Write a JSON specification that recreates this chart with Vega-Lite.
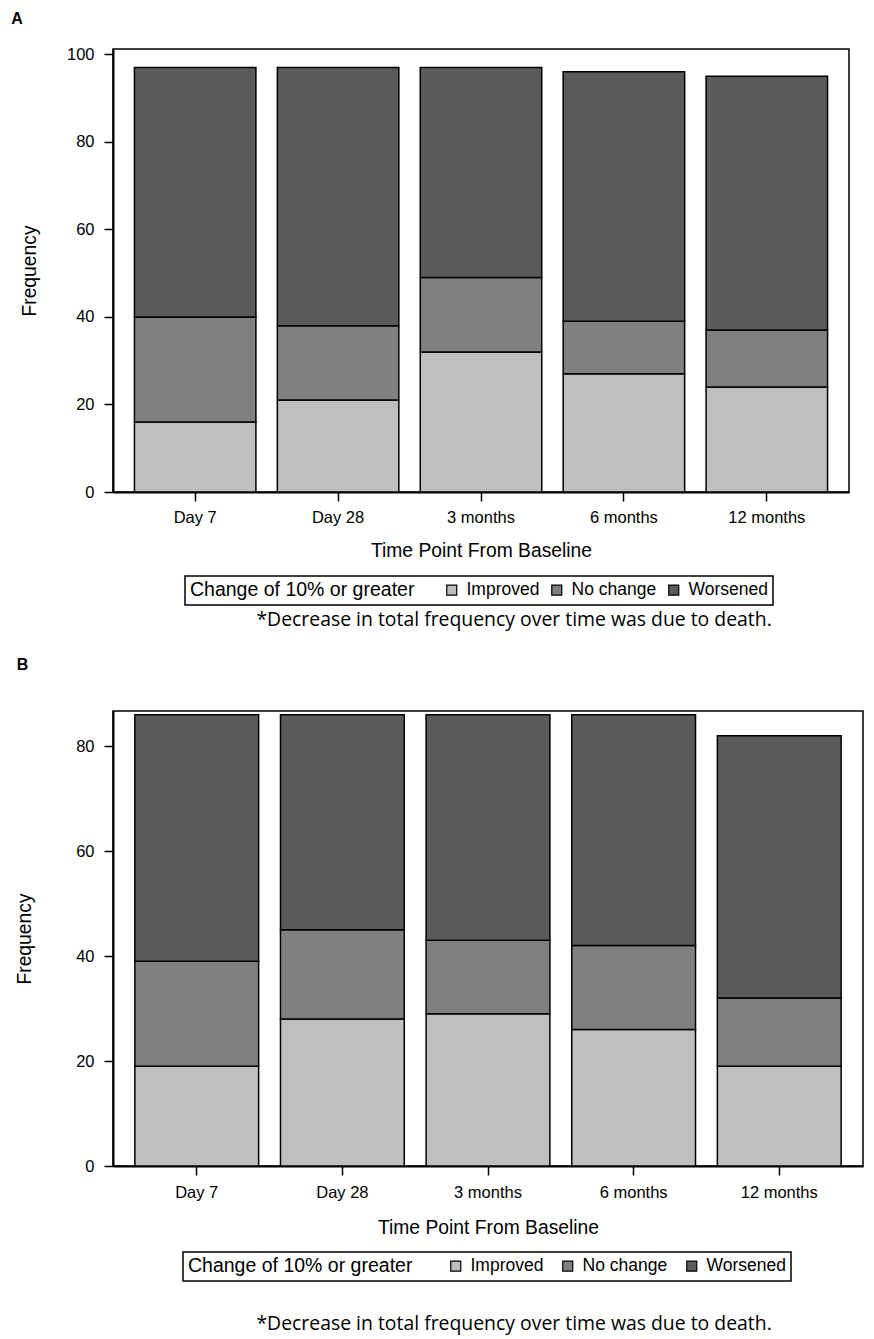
{
  "$schema": "https://vega.github.io/schema/vega-lite/v6.json",
  "background": "white",
  "padding": {"left": 10, "top": 10, "right": 4, "bottom": 4},
  "config": {
    "font": "Liberation Sans",
    "view": {"stroke": "black", "strokeWidth": 1.5},
    "axis": {
      "grid": false,
      "domainColor": "black",
      "domainWidth": 2,
      "tickColor": "black",
      "tickWidth": 1.5,
      "tickSize": 9,
      "labelColor": "black",
      "labelFont": "Liberation Sans",
      "labelFontSize": 16.5,
      "titleColor": "black",
      "titleFont": "Liberation Sans",
      "titleFontSize": 19.3,
      "titleFontWeight": "normal"
    },
    "legend": {
      "direction": "horizontal",
      "titleOrient": "left",
      "titleLimit": 400,
      "labelLimit": 200,
      "titleFont": "Liberation Sans",
      "titleFontSize": 19.5,
      "titleFontWeight": "normal",
      "titleColor": "black",
      "labelFont": "Liberation Sans",
      "labelFontSize": 17.5,
      "labelColor": "black",
      "symbolType": "square",
      "symbolSize": 100,
      "symbolStrokeColor": "black",
      "symbolStrokeWidth": 1.2,
      "strokeColor": "black",
      "strokeWidth": 1.5,
      "padding": 5,
      "labelOffset": 6,
      "columnPadding": 8,
      "titlePadding": 28
    }
  },
  "datasets": {
    "a": [
      {"time": "Day 7", "status": "Improved", "n": 16},
      {"time": "Day 7", "status": "No change", "n": 24},
      {"time": "Day 7", "status": "Worsened", "n": 57},
      {"time": "Day 28", "status": "Improved", "n": 21},
      {"time": "Day 28", "status": "No change", "n": 17},
      {"time": "Day 28", "status": "Worsened", "n": 59},
      {"time": "3 months", "status": "Improved", "n": 32},
      {"time": "3 months", "status": "No change", "n": 17},
      {"time": "3 months", "status": "Worsened", "n": 48},
      {"time": "6 months", "status": "Improved", "n": 27},
      {"time": "6 months", "status": "No change", "n": 12},
      {"time": "6 months", "status": "Worsened", "n": 57},
      {"time": "12 months", "status": "Improved", "n": 24},
      {"time": "12 months", "status": "No change", "n": 13},
      {"time": "12 months", "status": "Worsened", "n": 58}
    ],
    "b": [
      {"time": "Day 7", "status": "Improved", "n": 19},
      {"time": "Day 7", "status": "No change", "n": 20},
      {"time": "Day 7", "status": "Worsened", "n": 47},
      {"time": "Day 28", "status": "Improved", "n": 28},
      {"time": "Day 28", "status": "No change", "n": 17},
      {"time": "Day 28", "status": "Worsened", "n": 41},
      {"time": "3 months", "status": "Improved", "n": 29},
      {"time": "3 months", "status": "No change", "n": 14},
      {"time": "3 months", "status": "Worsened", "n": 43},
      {"time": "6 months", "status": "Improved", "n": 26},
      {"time": "6 months", "status": "No change", "n": 16},
      {"time": "6 months", "status": "Worsened", "n": 44},
      {"time": "12 months", "status": "Improved", "n": 19},
      {"time": "12 months", "status": "No change", "n": 13},
      {"time": "12 months", "status": "Worsened", "n": 50}
    ]
  },
  "spacing": 26,
  "resolve": {
    "scale": {"x": "independent", "y": "independent", "color": "independent"},
    "legend": {"color": "independent"}
  },
  "vconcat": [
    {
      "title": {
        "text": "*Decrease in total frequency over time was due to death.",
        "orient": "bottom",
        "anchor": "middle",
        "font": "Open Sans",
        "fontSize": 19.4,
        "fontWeight": "normal",
        "color": "black",
        "offset": 5,
        "dx": 84
      },
      "vconcat": [
        {
          "title": {
            "text": "A",
            "anchor": "start",
            "frame": "bounds",
            "font": "Liberation Sans",
            "fontSize": 16,
            "fontWeight": "bold",
            "color": "black",
            "offset": 19,
            "dx": -9
          },
          "width": 736,
          "height": 443,
          "data": {"name": "a"},
          "mark": {"type": "bar", "stroke": "black", "strokeWidth": 1.5},
          "encoding": {
            "x": {
              "field": "time",
              "type": "nominal",
              "sort": ["Day 7", "Day 28", "3 months", "6 months", "12 months"],
              "scale": {"paddingInner": 0.15, "paddingOuter": 0.15},
              "axis": {"title": "Time Point From Baseline", "labelAngle": 0, "labelPadding": 8.5, "titlePadding": 15.4}
            },
            "y": {
              "field": "n",
              "type": "quantitative",
              "stack": "zero",
              "scale": {"domain": [0, 101.2], "nice": false},
              "axis": {"title": "Frequency", "values": [0, 20, 40, 60, 80, 100], "labelPadding": 10, "titlePadding": 27.3}
            },
            "color": {
              "field": "status",
              "type": "nominal",
              "scale": {"domain": ["Improved", "No change", "Worsened"], "range": ["#bfbfbf", "#808080", "#5b5b5b"]},
              "legend": {"title": "Change of 10% or greater", "orient": "none", "legendX": 72, "legendY": 527}
            },
            "order": {"field": "status", "sort": "ascending"}
          }
        }
      ]
    },
    {
      "title": {
        "text": "*Decrease in total frequency over time was due to death.",
        "orient": "bottom",
        "anchor": "middle",
        "font": "Open Sans",
        "fontSize": 19.4,
        "fontWeight": "normal",
        "color": "black",
        "offset": 33,
        "dx": 75
      },
      "vconcat": [
        {
          "title": {
            "text": "B",
            "anchor": "start",
            "frame": "bounds",
            "font": "Liberation Sans",
            "fontSize": 16,
            "fontWeight": "bold",
            "color": "black",
            "offset": 38,
            "dx": 1.5
          },
          "width": 750,
          "height": 455,
          "data": {"name": "b"},
          "mark": {"type": "bar", "stroke": "black", "strokeWidth": 1.5},
          "encoding": {
            "x": {
              "field": "time",
              "type": "nominal",
              "sort": ["Day 7", "Day 28", "3 months", "6 months", "12 months"],
              "scale": {"paddingInner": 0.15, "paddingOuter": 0.15},
              "axis": {"title": "Time Point From Baseline", "labelAngle": 0, "labelPadding": 9.75, "titlePadding": 16.8}
            },
            "y": {
              "field": "n",
              "type": "quantitative",
              "stack": "zero",
              "scale": {"domain": [0, 86.7], "nice": false},
              "axis": {"title": "Frequency", "values": [0, 20, 40, 60, 80], "labelPadding": 10, "titlePadding": 41.5}
            },
            "color": {
              "field": "status",
              "type": "nominal",
              "scale": {"domain": ["Improved", "No change", "Worsened"], "range": ["#bfbfbf", "#808080", "#5b5b5b"]},
              "legend": {"title": "Change of 10% or greater", "orient": "none", "legendX": 70, "legendY": 541, "columnPadding": 15, "titlePadding": 34}
            },
            "order": {"field": "status", "sort": "ascending"}
          }
        }
      ]
    }
  ]
}
